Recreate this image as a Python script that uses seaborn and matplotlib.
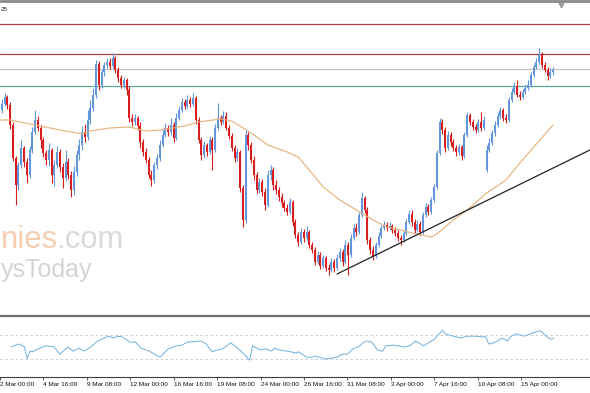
import numpy as np
import pandas as pd
import matplotlib
matplotlib.use("Agg")
import matplotlib.pyplot as plt
from matplotlib.lines import Line2D
import seaborn as sns

# ---------------- data (H4 bars, index counted from 2 Mar 00:00) ----------------
first_index = 4
first_open = 1.1182
gap_opens = {180: 1.1130}          # weekend gap, 13 Apr 00:00

closes = [
    1.1190, 1.1196, 1.1203, 1.1195, 1.1175, 1.1142, 1.1115, 1.1135, 1.1152, 1.1138, 1.1125, 1.1150, 1.1168, 1.1180, 1.1172, 1.1160,
    1.1147, 1.1140, 1.1150, 1.1125, 1.1135, 1.1148, 1.1133, 1.1122, 1.1138, 1.1125, 1.1110, 1.1128, 1.1145, 1.1155, 1.1168, 1.1163,
    1.1180, 1.1192, 1.1205, 1.1236, 1.1215, 1.1228, 1.1235, 1.1238, 1.1234, 1.1242, 1.1230, 1.1222, 1.1215, 1.1220, 1.1210, 1.1182,
    1.1178, 1.1182, 1.1174, 1.1158, 1.1148, 1.1140, 1.1125, 1.1120, 1.1135, 1.1142, 1.1155, 1.1165, 1.1172, 1.1168, 1.1175, 1.1162,
    1.1182, 1.1190, 1.1198, 1.1194, 1.1200, 1.1196, 1.1202, 1.1180, 1.1160, 1.1145, 1.1155, 1.1148, 1.1160, 1.1150, 1.1172, 1.1182,
    1.1178, 1.1184, 1.1172, 1.1164, 1.1152, 1.1142, 1.1148, 1.1112, 1.1080, 1.1165, 1.1155, 1.1140, 1.1125, 1.1110, 1.1118, 1.1108,
    1.1095, 1.1125, 1.1130, 1.1115, 1.1110, 1.1103, 1.1097, 1.1092, 1.1088, 1.1098, 1.1078, 1.1065, 1.1058, 1.1068, 1.1062, 1.1068,
    1.1055, 1.1050, 1.1038, 1.1045, 1.1034, 1.1042, 1.1032, 1.1030, 1.1038, 1.1032, 1.1042, 1.1048, 1.1038, 1.1055, 1.1045, 1.1062,
    1.1072, 1.1068, 1.1085, 1.1102, 1.1090, 1.1060, 1.1050, 1.1044, 1.1055, 1.1064, 1.1072, 1.1075, 1.1072, 1.1074, 1.1070, 1.1067,
    1.1062, 1.1060, 1.1067, 1.1078, 1.1086, 1.1078, 1.1070, 1.1076, 1.1068, 1.1085, 1.1093, 1.1088, 1.1100, 1.1113, 1.1147, 1.1178,
    1.1170, 1.1152, 1.1165, 1.1158, 1.1152, 1.1148, 1.1153, 1.1144, 1.1165, 1.1185, 1.1178, 1.1173, 1.1170, 1.1178, 1.1172, 1.1180,
    1.1150, 1.1157, 1.1167, 1.1175, 1.1184, 1.1190, 1.1182, 1.1180, 1.1200, 1.1208, 1.1214, 1.1205, 1.1203, 1.1208, 1.1212, 1.1215,
    1.1225, 1.1233, 1.1238, 1.1245, 1.1235, 1.1230, 1.1224, 1.1228, 1.1230,
]
highs = [
    1.1196, 1.1201, 1.1207, 1.1205, 1.1198, 1.1178, 1.1144, 1.1138, 1.1160, 1.1154, 1.1142, 1.1154, 1.1173, 1.1190, 1.1184, 1.1175,
    1.1163, 1.1150, 1.1157, 1.1152, 1.1140, 1.1154, 1.1151, 1.1137, 1.1150, 1.1142, 1.1129, 1.1134, 1.1150, 1.1161, 1.1174, 1.1176,
    1.1190, 1.1200, 1.1212, 1.1240, 1.1239, 1.1231, 1.1238, 1.1242, 1.1242, 1.1247, 1.1244, 1.1233, 1.1225, 1.1223, 1.1222, 1.1214,
    1.1186, 1.1186, 1.1184, 1.1178, 1.1161, 1.1152, 1.1143, 1.1130, 1.1138, 1.1146, 1.1160, 1.1170, 1.1177, 1.1175, 1.1182, 1.1178,
    1.1187, 1.1194, 1.1202, 1.1201, 1.1205, 1.1203, 1.1207, 1.1204, 1.1183, 1.1163, 1.1159, 1.1157, 1.1164, 1.1163, 1.1176, 1.1197,
    1.1185, 1.1189, 1.1188, 1.1175, 1.1167, 1.1155, 1.1152, 1.1150, 1.1115, 1.1170, 1.1168, 1.1158, 1.1144, 1.1128, 1.1122, 1.1121,
    1.1112, 1.1130, 1.1135, 1.1133, 1.1120, 1.1113, 1.1107, 1.1100, 1.1096, 1.1102, 1.1100, 1.1081, 1.1068, 1.1072, 1.1071, 1.1074,
    1.1070, 1.1058, 1.1053, 1.1049, 1.1048, 1.1045, 1.1044, 1.1036, 1.1042, 1.1041, 1.1046, 1.1052, 1.1051, 1.1060, 1.1058, 1.1066,
    1.1076, 1.1077, 1.1088, 1.1108, 1.1104, 1.1093, 1.1063, 1.1054, 1.1058, 1.1068, 1.1075, 1.1079, 1.1078, 1.1078, 1.1076, 1.1073,
    1.1070, 1.1065, 1.1070, 1.1081, 1.1090, 1.1090, 1.1081, 1.1080, 1.1079, 1.1088, 1.1097, 1.1096, 1.1103, 1.1116, 1.1150, 1.1182,
    1.1181, 1.1173, 1.1169, 1.1168, 1.1161, 1.1155, 1.1156, 1.1155, 1.1168, 1.1188, 1.1187, 1.1181, 1.1176, 1.1181, 1.1188, 1.1184,
    1.1155, 1.1162, 1.1170, 1.1179, 1.1188, 1.1193, 1.1192, 1.1186, 1.1203, 1.1212, 1.1218, 1.1220, 1.1209, 1.1211, 1.1215, 1.1220,
    1.1228, 1.1236, 1.1242, 1.1252, 1.1248, 1.1238, 1.1233, 1.1232, 1.1233,
]
lows = [
    1.1179, 1.1187, 1.1194, 1.1191, 1.1171, 1.1139, 1.1095, 1.1110, 1.1132, 1.1133, 1.1117, 1.1122, 1.1147, 1.1166, 1.1169, 1.1152,
    1.1143, 1.1135, 1.1134, 1.1117, 1.1114, 1.1132, 1.1128, 1.1112, 1.1119, 1.1121, 1.1103, 1.1105, 1.1124, 1.1140, 1.1150, 1.1158,
    1.1160, 1.1176, 1.1189, 1.1202, 1.1210, 1.1212, 1.1224, 1.1232, 1.1231, 1.1232, 1.1227, 1.1218, 1.1212, 1.1212, 1.1205, 1.1178,
    1.1174, 1.1175, 1.1170, 1.1152, 1.1144, 1.1137, 1.1122, 1.1114, 1.1117, 1.1131, 1.1139, 1.1153, 1.1163, 1.1164, 1.1165, 1.1158,
    1.1160, 1.1180, 1.1188, 1.1191, 1.1192, 1.1193, 1.1194, 1.1176, 1.1157, 1.1140, 1.1142, 1.1144, 1.1146, 1.1130, 1.1148, 1.1170,
    1.1175, 1.1176, 1.1170, 1.1161, 1.1149, 1.1138, 1.1139, 1.1108, 1.1073, 1.1077, 1.1150, 1.1137, 1.1120, 1.1107, 1.1107, 1.1104,
    1.1090, 1.1093, 1.1120, 1.1110, 1.1106, 1.1099, 1.1093, 1.1089, 1.1085, 1.1086, 1.1074, 1.1062, 1.1054, 1.1056, 1.1058, 1.1060,
    1.1052, 1.1047, 1.1035, 1.1036, 1.1031, 1.1032, 1.1029, 1.1025, 1.1028, 1.1028, 1.1030, 1.1039, 1.1034, 1.1036, 1.1025, 1.1043,
    1.1060, 1.1064, 1.1066, 1.1083, 1.1087, 1.1056, 1.1046, 1.1040, 1.1042, 1.1053, 1.1062, 1.1070, 1.1069, 1.1070, 1.1067, 1.1064,
    1.1059, 1.1055, 1.1058, 1.1065, 1.1076, 1.1074, 1.1067, 1.1068, 1.1065, 1.1066, 1.1083, 1.1085, 1.1086, 1.1098, 1.1111, 1.1145,
    1.1166, 1.1148, 1.1150, 1.1154, 1.1149, 1.1144, 1.1145, 1.1140, 1.1142, 1.1163, 1.1175, 1.1170, 1.1167, 1.1168, 1.1169, 1.1170,
    1.1128, 1.1148, 1.1155, 1.1164, 1.1173, 1.1181, 1.1179, 1.1177, 1.1178, 1.1198, 1.1206, 1.1203, 1.1200, 1.1201, 1.1206, 1.1210,
    1.1213, 1.1223, 1.1231, 1.1236, 1.1232, 1.1228, 1.1220, 1.1222, 1.1225,
]

# moving average
ma_pos = [4, 8, 17, 26, 34, 37, 44, 51, 57, 62, 67, 71, 76, 84, 88, 95, 101, 108, 112, 116,
          121, 127, 133, 139, 144, 149, 153, 160, 162, 168, 173, 180, 187, 192, 197, 204]
ma_vals = [1.1180, 1.1180, 1.1175, 1.1170, 1.1166, 1.1169, 1.1172, 1.1173, 1.1169, 1.1170,
           1.1172, 1.1174, 1.1178, 1.1181, 1.1179, 1.1167, 1.1155, 1.1148, 1.1143, 1.1130,
           1.1113, 1.1100, 1.1090, 1.1080, 1.1073, 1.1070, 1.1067, 1.1063, 1.1066, 1.1080,
           1.1090, 1.1107, 1.1120, 1.1137, 1.1153, 1.1175]

# oscillator (RSI) readings
rsi_pos = [4, 7, 9, 10, 11, 12, 14, 17, 20, 22, 25, 27, 29, 31, 34, 36, 40, 42, 43, 45,
           48, 50, 52, 55, 59, 62, 65, 67, 69, 74, 76, 78, 80, 82, 85, 87, 89, 92, 93, 96,
           98, 100, 101, 103, 106, 109, 110, 113, 115, 116, 120, 124, 126, 128, 130, 132, 134, 135, 137, 139,
           141, 142, 145, 149, 151, 153, 155, 156, 159, 160, 163, 164, 167, 170, 172, 175, 178, 179, 180, 182,
           185, 187, 188, 190, 193, 196, 199, 202, 203, 204]
rsi_vals = [50, 55, 50, 30, 43, 42, 47, 52, 50, 38, 50, 43, 48, 43, 52, 60, 68, 65, 68, 67,
            58, 58, 48, 43, 33, 47, 52, 53, 58, 60, 55, 42, 45, 47, 57, 50, 42, 28, 52, 45,
            47, 43, 48, 45, 43, 40, 42, 33, 33, 35, 30, 33, 38, 38, 47, 50, 58, 60, 58, 45,
            43, 52, 53, 50, 52, 60, 55, 52, 60, 63, 78, 72, 68, 65, 68, 68, 67, 67, 55, 57,
            65, 60, 67, 72, 68, 73, 77, 65, 63, 65]
rsi_levels = [70, 30]

levels = [1.1276, 1.1246, 1.1231, 1.1214]
level_colors = ["#b0404c", "#b0404c", "#c4c4c4", "#5aaa9c"]

trend_pos = [126, 217.3]
trend_vals = [1.1026, 1.1150]

tick_labels = ["2 Mar 00:00", "4 Mar 16:00", "9 Mar 08:00", "12 Mar 00:00", "16 Mar 16:00",
               "19 Mar 08:00", "24 Mar 00:00", "26 Mar 16:00", "31 Mar 08:00", "3 Apr 00:00",
               "7 Apr 16:00", "10 Apr 08:00", "15 Apr 00:00"]
tick_step = 16

# ---------------- build table ----------------
idx = np.arange(first_index, first_index + len(closes))
opens = [first_open] + closes[:-1]
df = pd.DataFrame({"i": idx, "open": opens, "high": highs, "low": lows, "close": closes})
for k, v in gap_opens.items():
    df.loc[df["i"] == k, "open"] = v
df["bull"] = df["close"] >= df["open"]
BULL, BEAR = "#6496dc", "#d81e1e"
df["color"] = np.where(df["bull"], BULL, BEAR)
df["body_lo"] = df[["open", "close"]].min(axis=1)
df["body_h"] = (df["close"] - df["open"]).abs().clip(lower=0.00008)

# ---------------- figure ----------------
sns.set_theme(style="white")
plt.rcParams["font.family"] = ["Liberation Sans", "DejaVu Sans"]

W, H = 590, 393
fig = plt.figure(figsize=(W / 100, H / 100), dpi=100)
fig.patch.set_facecolor("white")

def fx(x):
    return x / W

def fy(y):
    return 1 - y / H

px_per_bar = 2.77
x0_px = -12.0
xlim = ((0 - x0_px) / px_per_bar, (W - x0_px) / px_per_bar)

ax = fig.add_axes([0, fy(314), 1, (314 - 4) / H])
axr = fig.add_axes([0, fy(377), 1, (377 - 317) / H])

# main panel
for lv, lc in zip(levels, level_colors):
    ax.axhline(lv, color=lc, lw=0.9, zorder=1)

ax.vlines(df["i"], df["low"], df["high"], colors=df["color"], lw=0.8, zorder=3)
ax.bar(df["i"], df["body_h"], bottom=df["body_lo"], width=0.72, color=df["color"],
       linewidth=0, zorder=4)

sns.lineplot(x=ma_pos, y=ma_vals, ax=ax, color="#e6b47e", lw=0.85, estimator=None,
             sort=False, zorder=5)
sns.lineplot(x=trend_pos, y=trend_vals, ax=ax, color="#222222", lw=0.9, estimator=None,
             sort=False, zorder=6)

ax.set_xlim(*xlim)
ax.set_ylim(1.0986, 1.1296)
ax.set_xticks([])
ax.set_yticks([])
ax.set_xlabel("")
ax.set_ylabel("")
for s in ax.spines.values():
    s.set_visible(False)
ax.set_facecolor("none")

# oscillator panel
for lv in rsi_levels:
    axr.axhline(lv, color="#c8c8c8", lw=0.6, ls=(0, (3, 3)), zorder=1)
sns.lineplot(x=rsi_pos, y=rsi_vals, ax=axr, color="#72b0da", lw=0.7, estimator=None,
             sort=False, zorder=3)
axr.set_xlim(*xlim)
axr.set_ylim(0, 100)
axr.set_yticks([])
axr.set_xlabel("")
axr.set_ylabel("")
ticks = [k * tick_step for k in range(len(tick_labels))]
axr.set_xticks(ticks)
axr.set_xticklabels(tick_labels, fontsize=4.6, color="#111111")
axr.tick_params(axis="x", length=2, width=0.6, color="#404040", pad=1.5, bottom=True)
for lab in axr.get_xticklabels():
    lab.set_horizontalalignment("left")
for name, s in axr.spines.items():
    s.set_visible(name == "bottom")
axr.spines["bottom"].set_color("#404040")
axr.spines["bottom"].set_linewidth(0.8)
axr.set_facecolor("none")

# frame lines
fig.add_artist(Line2D([0, 1], [fy(1.3), fy(1.3)], transform=fig.transFigure,
                      color="#8a8a8a", lw=2.0))
fig.add_artist(Line2D([0, 1], [fy(316), fy(316)], transform=fig.transFigure,
                      color="#6e6e6e", lw=1.6))

# small header text and shift marker
fig.text(fx(0.5), fy(9.5), "25", fontsize=4.6, color="#222222", ha="left", va="center")
fig.add_artist(Line2D([fx(560.5)], [fy(5)], transform=fig.transFigure, marker="v",
                      markersize=3.5, color="#9a9a9a", lw=0))

# watermark (visible part of the cropped logo)
fig.text(fx(0.5), fy(248), "nies", fontsize=22.3, color="#f7cdb0", ha="left",
         va="baseline", zorder=0)
fig.text(fx(56), fy(248), ".com", fontsize=22.3, color="#dadada", ha="left",
         va="baseline", zorder=0)
fig.text(fx(92), fy(277), "ysToday", fontsize=18, color="#d4d4d4", ha="right",
         va="baseline", zorder=0)

fig.savefig("out.png", dpi=100, facecolor="white")
